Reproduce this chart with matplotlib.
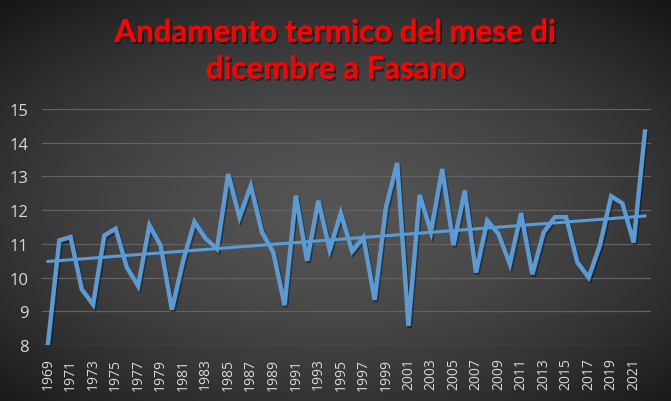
import numpy as np
import matplotlib
matplotlib.use("Agg")
import matplotlib.pyplot as plt
import matplotlib.patheffects as pe

# dati: temperatura media di dicembre a Fasano
years = list(range(1969, 2023))
temps = [8.05, 11.1, 11.2, 9.65, 9.2, 11.25, 11.45, 10.3, 9.75, 11.55,
         10.95, 9.05, 10.5, 11.65, 11.15, 10.85, 13.07, 11.79, 12.72, 11.34,
         10.75, 9.18, 12.43, 10.5, 12.28, 10.82, 11.91, 10.78, 11.19, 9.34,
         12.08, 13.4, 8.57, 12.45, 11.36, 13.22, 10.96, 12.58, 10.15, 11.69,
         11.29, 10.4, 11.91, 10.1, 11.34, 11.79, 11.79, 10.45, 10.0, 10.96,
         12.41, 12.2, 11.04, 14.33]
y_ticks = [8, 9, 10, 11, 12, 13, 14, 15]
x_labels = [str(y) for y in years[::2]]
title = "Andamento termico del mese di\ndicembre a Fasano"

fig = plt.figure(figsize=(6.71, 4.02), dpi=100)

# sfondo sfumato
bg = fig.add_axes([0, 0, 1, 1])
gx, gy = np.meshgrid(np.linspace(-1, 1, 400), np.linspace(-1, 1, 240))
r = np.sqrt((gx * 0.85) ** 2 + ((gy + 0.05) * 0.9) ** 2)
shade = 0.33 - 0.17 * np.clip(r, 0, 1.25) ** 1.6
bg.imshow(np.dstack([shade] * 3), aspect="auto", extent=[0, 1, 0, 1],
          origin="lower", interpolation="bilinear")
bg.axis("off")

ax = fig.add_axes([0.0632, 0.1393, 0.9064, 0.5871])
ax.patch.set_alpha(0)

blue = "#5B9BD5"
shadow = [pe.SimpleLineShadow(offset=(1, -1.5), shadow_color="black", alpha=0.35), pe.Normal()]
ax.plot(years, temps, color=blue, lw=3.2, solid_joinstyle="miter", path_effects=shadow, zorder=3)

# linea di tendenza lineare
coef = np.polyfit(years, temps, 1)
trend = np.polyval(coef, years)
ax.plot(years, trend, color=blue, lw=2.2, zorder=4)

ax.set_xlim(1968.5, 2022.5)
ax.set_ylim(8, 15)
ax.set_yticks(y_ticks)
ax.set_xticks(years[::2])
ax.set_xticklabels(x_labels, rotation=90)
ax.grid(axis="y", color="#626262", lw=0.9)
ax.set_axisbelow(True)
for s in ax.spines.values():
    s.set_visible(False)
ax.tick_params(length=0, colors="#d9d9d9")
ax.tick_params(axis="y", labelsize=12, pad=10)
ax.tick_params(axis="x", labelsize=10, pad=9)
for lbl in ax.get_xticklabels() + ax.get_yticklabels():
    lbl.set_family("Open Sans")

fig.text(0.5, 0.87, title, ha="center", va="center", color="#ff0000",
         fontsize=22.5, fontweight="bold", family="Lato", linespacing=1.38,
         path_effects=[pe.withSimplePatchShadow(offset=(1.5, -1.5), shadow_rgbFace="black", alpha=0.5),
                       pe.Normal()])

fig.savefig("out.png", dpi=100)
